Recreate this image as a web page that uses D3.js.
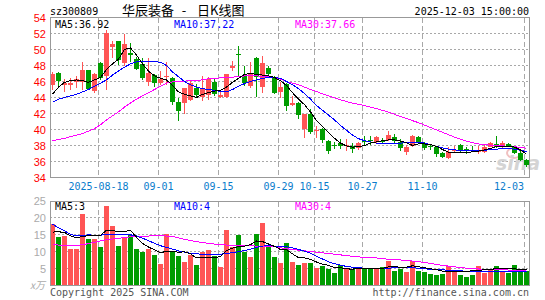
<!DOCTYPE html>
<html>
<head>
<meta charset="utf-8">
<script src="https://cdn.jsdelivr.net/npm/d3@7"></script>
<style>
body { margin: 0; background: #fff; }
text { font-family: "DejaVu Sans Mono", monospace; font-size: 10px; }
</style>
</head>
<body>
<div id="chart"></div>
<script>
// Data
const dates = ['08-06','08-07','08-08','08-11','08-12','08-13','08-14','08-15','08-18','08-19',
    '08-20','08-21','08-22','08-25','08-26','08-27','08-28','08-29','09-01','09-02',
    '09-03','09-04','09-05','09-08','09-09','09-10','09-11','09-12','09-15','09-16',
    '09-17','09-18','09-19','09-22','09-23','09-24','09-25','09-26','09-29','09-30',
    '10-09','10-10','10-13','10-14','10-15','10-16','10-17','10-20','10-21','10-22',
    '10-23','10-24','10-27','10-28','10-29','10-30','10-31','11-03','11-04','11-05',
    '11-06','11-07','11-10','11-11','11-12','11-13','11-14','11-17','11-18','11-19',
    '11-20','11-21','11-24','11-25','11-26','11-27','11-28','12-01','12-02','12-03']

const open = [45.55,47.1,45.6,45.6,46.0,46.0,47.5,44.85,48.3,46.7,
    50.35,51.1,48.3,49.6,48.8,48.2,46.0,46.8,45.85,46.55,
    46.4,43.5,43.3,43.7,45.15,44.1,44.3,46.0,44.1,44.1,
    47.65,49.5,46.7,45.4,48.9,45.35,47.7,46.4,44.65,45.7,
    43.1,43.3,40.06,41.9,39.8,40.1,38.6,38.1,38.35,37.95,
    37.95,37.65,38.6,38.7,38.5,38.6,38.7,39.1,38.5,37.25,
    37.95,39.1,38.3,37.9,37.85,37.1,36.5,37.45,38.05,37.6,
    37.5,37.3,37.2,37.8,38.2,37.8,38.2,37.8,37.1,36.2]
const close = [46.95,46.1,45.8,45.85,46.3,47.5,45.1,46.9,46.4,52.1,
    50.7,48.7,50.7,49.35,47.6,46.4,47.1,45.8,46.3,46.7,
    43.5,42.3,45.2,45.8,44.3,45.15,46.3,44.5,44.35,47.0,
    47.9,49.35,45.8,47.0,46.6,48.3,46.9,44.6,45.35,43.0,
    43.3,41.8,41.9,39.7,39.9,38.7,37.35,38.0,38.0,38.05,
    37.55,38.3,38.55,38.55,39.1,38.4,39.3,38.6,37.7,37.8,
    39.2,38.5,37.65,37.85,37.0,36.6,37.2,37.5,37.4,37.3,
    37.45,37.35,37.8,38.3,37.8,38.3,37.9,37.1,36.2,35.6]
const high = [47.25,47.15,46.3,46.4,46.7,48.5,47.5,47.1,48.4,52.5,
    51.1,51.1,51.9,50.8,49.1,48.9,48.9,46.9,47.3,48.5,
    46.6,44.0,45.2,46.2,45.7,46.7,46.6,46.4,44.8,47.0,
    48.6,50.5,48.0,48.5,49.1,49.2,48.0,46.7,46.0,45.8,
    44.2,43.5,42.0,42.6,40.4,40.2,38.7,38.5,38.8,38.8,
    38.3,38.5,39.2,39.2,39.2,38.9,39.8,39.4,38.8,38.1,
    39.3,39.2,38.4,38.2,37.95,37.2,37.8,37.9,38.2,37.8,
    37.9,37.9,38.1,38.5,39.2,38.6,38.3,38.0,37.3,36.3]
const low = [44.9,45.3,44.7,45.0,45.2,45.0,44.9,44.6,46.2,44.9,
    48.9,48.1,48.0,48.4,47.5,46.2,45.5,45.3,45.6,45.6,
    43.1,41.1,41.9,43.6,44.1,43.6,43.7,44.2,44.0,44.0,
    47.3,46.7,45.4,45.2,44.1,44.6,46.7,44.5,44.0,42.35,
    42.9,41.3,39.0,39.4,39.0,38.3,37.0,37.6,37.6,37.3,
    37.1,37.5,38.0,38.1,38.35,38.3,38.6,38.3,37.3,36.8,
    37.8,38.3,37.5,37.5,36.6,36.5,36.3,37.2,37.2,36.9,
    37.2,36.9,37.1,37.8,37.7,37.6,37.8,37.0,36.1,35.3]

const ma5 = [44.4,45.3,45.9,46.1,46.2,46.1,45.9,46.2,46.5,47.5,
    48.2,48.8,50.0,50.2,49.3,48.2,47.3,46.7,46.4,46.2,
    45.5,44.7,44.4,44.2,44.0,44.4,44.6,44.8,44.9,45.3,
    45.9,46.4,46.9,47.0,46.9,46.8,46.7,46.5,46.1,45.5,
    44.6,43.8,43.1,42.2,41.1,40.4,39.6,38.9,38.3,37.95,
    37.8,37.85,38.0,38.3,38.45,38.6,38.7,38.7,38.55,38.35,
    38.0,38.2,38.2,38.1,37.9,37.5,37.15,37.1,37.1,37.15,
    37.2,37.3,37.45,37.65,37.85,37.9,37.9,37.8,37.45,36.92]
const ma10 = [43.4,43.8,44.0,44.2,44.4,44.7,45.0,45.4,45.8,46.2,
    46.8,47.3,47.8,48.2,48.45,48.5,48.5,48.5,48.4,48.0,
    47.2,46.6,46.0,45.6,45.3,45.1,45.0,44.9,44.75,44.7,
    45.0,45.4,45.75,46.0,46.2,46.4,46.5,46.5,46.4,46.0,
    45.6,45.1,44.5,43.8,43.0,42.4,41.8,41.2,40.5,39.9,
    39.3,38.85,38.6,38.45,38.3,38.2,38.2,38.25,38.3,38.35,
    38.4,38.4,38.3,38.1,37.9,37.7,37.55,37.45,37.4,37.35,
    37.35,37.35,37.4,37.5,37.55,37.6,37.6,37.55,37.4,37.22]
const ma30 = [38.6,38.75,38.9,39.1,39.3,39.5,39.8,40.1,40.6,41.2,
    41.7,42.2,42.8,43.3,43.8,44.2,44.6,45.0,45.4,45.8,
    45.95,46.0,46.05,46.1,46.15,46.2,46.35,46.4,46.45,46.5,
    46.55,46.6,46.7,46.7,46.7,46.65,46.6,46.5,46.3,46.0,
    45.8,45.6,45.3,45.0,44.75,44.45,44.2,43.95,43.7,43.5,
    43.3,43.15,43.0,42.8,42.6,42.4,42.15,41.9,41.6,41.4,
    41.1,40.85,40.55,40.25,39.95,39.65,39.35,39.05,38.8,38.55,
    38.35,38.2,38.1,38.05,38.0,37.95,37.9,37.85,37.75,37.66]

const volume = [18.2,14.2,14.6,10.7,10.7,21.1,13.7,13.7,11.3,23.4,
    17.5,11.6,14.0,14.9,10.7,9.9,10.7,9.0,6.3,15.1,
    10.1,8.7,6.9,9.0,6.0,9.9,10.4,8.7,5.5,16.3,
    11.3,14.9,9.9,8.4,15.1,18.4,11.6,8.4,6.7,12.5,
    6.9,6.0,6.6,6.6,5.2,5.8,4.9,3.8,6.0,5.0,
    5.0,5.0,5.0,5.0,5.0,5.4,7.2,4.4,5.0,4.0,
    7.1,4.3,4.0,3.4,3.2,3.5,5.6,4.7,3.2,2.6,
    3.2,5.7,3.8,4.7,5.8,4.3,3.7,6.0,4.7,4.2]
const volMa5 = [15.7,15.8,15.6,14.6,14.0,14.5,14.6,14.6,14.7,16.3,
    16.1,15.9,15.9,16.2,14.2,12.4,11.3,10.5,9.6,10.1,
    10.0,9.8,9.9,9.3,8.1,8.1,8.1,8.2,8.5,10.3,
    11.0,11.4,11.6,12.0,13.1,12.9,12.2,11.5,10.6,10.5,
    9.3,8.2,8.1,7.7,6.9,6.3,5.9,5.3,5.2,4.9,
    4.8,5.1,5.0,5.0,5.0,5.0,5.5,5.5,5.4,5.4,
    5.8,5.5,5.2,4.9,4.7,4.2,4.2,4.1,4.1,4.2,
    4.3,4.5,4.6,4.8,4.9,5.0,5.0,4.9,4.7,4.6]
const volMa10 = [18.0,17.0,16.1,15.0,14.6,14.7,14.9,14.8,14.8,15.0,
    15.0,15.0,15.0,14.9,14.6,13.9,13.2,12.4,11.7,11.2,
    10.7,10.2,9.8,9.5,9.3,9.2,9.2,9.2,9.2,9.4,
    9.7,9.9,10.3,10.7,11.2,11.6,11.7,11.6,11.5,11.4,
    11.1,10.6,10.1,9.5,8.6,7.8,7.0,6.4,6.0,5.6,
    5.4,5.2,5.1,5.05,5.05,5.05,5.1,5.2,5.25,5.25,
    5.2,5.1,4.9,4.8,4.7,4.6,4.5,4.4,4.3,4.2,
    4.1,4.0,4.0,4.1,4.2,4.25,4.25,4.25,4.25,4.25]
const volMa30 = [12.0,11.9,11.8,11.8,11.8,12.0,12.3,12.7,13.1,13.5,
    13.7,13.9,14.1,14.3,14.4,14.5,14.55,14.6,14.6,14.55,
    14.4,14.0,13.6,13.2,12.9,12.6,12.4,12.2,12.0,11.9,
    11.8,11.75,11.7,11.65,11.6,11.6,11.6,11.4,11.1,10.8,
    10.6,10.4,10.2,10.0,9.8,9.6,9.4,9.2,9.0,8.8,
    8.6,8.4,8.3,8.2,8.1,7.9,7.7,7.6,7.5,7.3,
    7.2,7.0,6.8,6.5,6.2,5.9,5.7,5.5,5.3,5.1,
    4.95,4.85,4.75,4.7,4.65,4.6,4.55,4.5,4.45,4.4]

const tickDates = ['08-18','09-01','09-15','09-29','10-15','10-27','11-10','12-03']
const tickLabels = ['2025-08-18','09-01','09-15','09-29','10-15','10-27','11-10','12-03']
const priceTicks = [34,36,38,40,42,44,46,48,50,52,54]
const volTicks = [5,10,15,20,25]

function draw(){
    // Set dimension
    const dimension = {
        width: 545,
        height: 300,
        left: 50,
        right: 529,
        priceTop: 17.5,
        priceBottom: 177.5,
        volTop: 201.5,
        volBottom: 285.5
    }
    const red = '#ff5555'
    const green = '#009c00'
    const gridColor = '#a8a8a8'

    const svg = d3.select('#chart')
        .append('svg')
        .attr('width', dimension.width)
        .attr('height', dimension.height)
        .style('display', 'block')

    // Scales
    const xScale = d3.scaleBand()
        .domain(dates)
        .range([dimension.left, dimension.right])
        .paddingInner(1/6)
        .paddingOuter(0)
    const bw = xScale.bandwidth()
    const mid = i => xScale(dates[i]) + bw / 2

    const yScale = d3.scaleLinear()
        .domain([34, 54])
        .range([dimension.priceBottom, dimension.priceTop])

    const vScale = d3.scaleLinear()
        .domain([0, 25])
        .range([dimension.volBottom, 200.5])

    const idx = d3.range(dates.length)
    const isUp = i => close[i] >= open[i]

    // Header texts
    svg.append('text').attr('x', 50).attr('y', 15).text('sz300809')
    svg.append('text').attr('x', 529).attr('y', 15).attr('text-anchor', 'end')
        .text('2025-12-03 15:00:00')
    const title = svg.append('g')
        .style('font-family', '"Noto Sans CJK SC", sans-serif')
    title.append('text').attr('x', 122).attr('y', 15)
        .style('font-family', 'inherit').style('font-size', '13px').text('华辰装备')
    title.append('text').attr('x', 184).attr('y', 15).attr('text-anchor', 'middle')
        .style('font-family', 'inherit').style('font-size', '13px').text('-')
    title.append('text').attr('x', 197).attr('y', 15)
        .style('font-family', 'inherit').style('font-size', '13px').text('日K线图')

    // Price grid
    const priceGrid = svg.append('g').attr('shape-rendering', 'crispEdges')
    priceGrid.selectAll('line.h')
        .data(priceTicks.filter(t => t > 34 && t < 54))
        .join('line')
        .attr('x1', dimension.left).attr('x2', dimension.right)
        .attr('y1', d => yScale(d)).attr('y2', d => yScale(d))
        .attr('stroke', gridColor).attr('stroke-dasharray', '2,2')
    priceGrid.selectAll('line.v')
        .data(tickDates)
        .join('line')
        .attr('x1', d => xScale(d) + 0.5).attr('x2', d => xScale(d) + 0.5)
        .attr('y1', dimension.priceTop).attr('y2', dimension.priceBottom)
        .attr('stroke', gridColor).attr('stroke-dasharray', '5,3')

    // Price axis labels
    svg.append('g')
        .selectAll('text')
        .data(priceTicks)
        .join('text')
        .attr('x', 46)
        .attr('y', d => yScale(d) + 4)
        .attr('text-anchor', 'end')
        .style('font-family', '"Liberation Sans", Arial, sans-serif')
        .style('font-size', '11px')
        .attr('fill', '#ff0000')
        .text(d => d)

    // Date labels (the last one is kept inside the frame)
    const last = tickDates.length - 1
    svg.append('g')
        .selectAll('text')
        .data(tickDates)
        .join('text')
        .attr('x', (d, i) => i === last ? xScale(d) : xScale(d) + 0.5)
        .attr('y', 190)
        .attr('text-anchor', (d, i) => i === last ? 'end' : 'middle')
        .attr('fill', '#0a7ccc')
        .text((d, i) => tickLabels[i])

    // watermark
    const wm = svg.append('g')
    wm.append('ellipse').attr('cx', 514).attr('cy', 153).attr('rx', 7).attr('ry', 5)
        .attr('fill', 'none').attr('stroke', '#f0c0c0').attr('stroke-width', 2)
    wm.append('text').attr('x', 496).attr('y', 170)
        .style('font-family', '"DejaVu Sans", sans-serif')
        .style('font-size', '19px').style('font-weight', 'bold').style('font-style', 'italic')
        .attr('fill', '#d4d4d4').text('sina')

    // Candles
    const candles = svg.append('g').attr('shape-rendering', 'crispEdges')
    candles.selectAll('line')
        .data(idx)
        .join('line')
        .attr('x1', i => mid(i)).attr('x2', i => mid(i))
        .attr('y1', i => yScale(high[i])).attr('y2', i => yScale(low[i]))
        .attr('stroke', i => isUp(i) ? red : green)
    candles.selectAll('rect')
        .data(idx)
        .join('rect')
        .attr('x', i => xScale(dates[i]))
        .attr('width', bw)
        .attr('y', i => yScale(Math.max(open[i], close[i])))
        .attr('height', i => Math.max(1, yScale(Math.min(open[i], close[i])) - yScale(Math.max(open[i], close[i]))))
        .attr('fill', i => isUp(i) ? red : green)

    // MA lines on price
    const priceLine = d3.line().x((d, i) => mid(i)).y(d => yScale(d))
    const maGroup = svg.append('g').attr('fill', 'none').attr('stroke-width', 1)
        .attr('shape-rendering', 'crispEdges')
    ;[[ma30, '#ff00ff'], [ma10, '#0000ff'], [ma5, '#000000']].forEach(([s, c]) => {
        maGroup.append('path').attr('d', priceLine(s)).attr('stroke', c)
    })

    // Price border
    svg.append('rect')
        .attr('x', dimension.left + 0.5).attr('y', dimension.priceTop)
        .attr('width', dimension.right - dimension.left).attr('height', dimension.priceBottom - dimension.priceTop)
        .attr('fill', 'none').attr('stroke', '#999').attr('shape-rendering', 'crispEdges')

    // Price legend
    svg.append('text').attr('x', 55).attr('y', 28).attr('fill', '#000').text('MA5:36.92')
    svg.append('text').attr('x', 174).attr('y', 28).attr('fill', '#0000ff').text('MA10:37.22')
    svg.append('text').attr('x', 295).attr('y', 28).attr('fill', '#ff00ff').text('MA30:37.66')

    // Volume grid
    const volGrid = svg.append('g').attr('shape-rendering', 'crispEdges')
    volGrid.selectAll('line.h')
        .data(volTicks.filter(t => t < 25))
        .join('line')
        .attr('x1', dimension.left).attr('x2', dimension.right)
        .attr('y1', d => vScale(d)).attr('y2', d => vScale(d))
        .attr('stroke', gridColor).attr('stroke-dasharray', '2,2')
    volGrid.selectAll('line.v')
        .data(tickDates)
        .join('line')
        .attr('x1', d => xScale(d) + 0.5).attr('x2', d => xScale(d) + 0.5)
        .attr('y1', dimension.volTop).attr('y2', dimension.volBottom)
        .attr('stroke', gridColor).attr('stroke-dasharray', '5,3')

    // Volume axis labels
    svg.append('g')
        .selectAll('text')
        .data(volTicks)
        .join('text')
        .attr('x', 46)
        .attr('y', d => vScale(d) + 4)
        .attr('text-anchor', 'end')
        .style('font-family', '"Liberation Sans", Arial, sans-serif')
        .style('font-size', '11px')
        .attr('fill', '#aaaaaa')
        .text(d => d)
    svg.append('text').attr('x', 45).attr('y', 289).attr('text-anchor', 'end')
        .style('font-family', '"Noto Sans CJK SC", sans-serif').style('font-size', '10px')
        .style('font-style', 'italic')
        .attr('fill', '#aaaaaa').text('x万')

    // Volume bars
    svg.append('g').attr('shape-rendering', 'crispEdges')
        .selectAll('rect')
        .data(idx)
        .join('rect')
        .attr('x', i => xScale(dates[i]))
        .attr('width', bw)
        .attr('y', i => vScale(volume[i]))
        .attr('height', i => vScale(0) - vScale(volume[i]))
        .attr('fill', i => isUp(i) ? red : green)

    // Volume MA lines
    const volLine = d3.line().x((d, i) => mid(i)).y(d => vScale(d))
    const vmaGroup = svg.append('g').attr('fill', 'none').attr('stroke-width', 1)
        .attr('shape-rendering', 'crispEdges')
    ;[[volMa30, '#ff00ff'], [volMa10, '#0000ff'], [volMa5, '#000000']].forEach(([s, c]) => {
        vmaGroup.append('path').attr('d', volLine(s)).attr('stroke', c)
    })

    // Volume border
    svg.append('rect')
        .attr('x', dimension.left + 0.5).attr('y', dimension.volTop)
        .attr('width', dimension.right - dimension.left).attr('height', dimension.volBottom - dimension.volTop)
        .attr('fill', 'none').attr('stroke', '#999').attr('shape-rendering', 'crispEdges')

    // Volume legend
    svg.append('text').attr('x', 55).attr('y', 210).attr('fill', '#000').text('MA5:3')
    svg.append('text').attr('x', 174).attr('y', 210).attr('fill', '#0000ff').text('MA10:4')
    svg.append('text').attr('x', 295).attr('y', 210).attr('fill', '#ff00ff').text('MA30:4')

    // Footer
    svg.append('text').attr('x', 50).attr('y', 296).attr('fill', '#555').text('Copyright 2025 SINA.COM')
    svg.append('text').attr('x', 529).attr('y', 296).attr('text-anchor', 'end').attr('fill', '#555')
        .text('http://finance.sina.com.cn')
}

draw()
</script>
</body>
</html>
